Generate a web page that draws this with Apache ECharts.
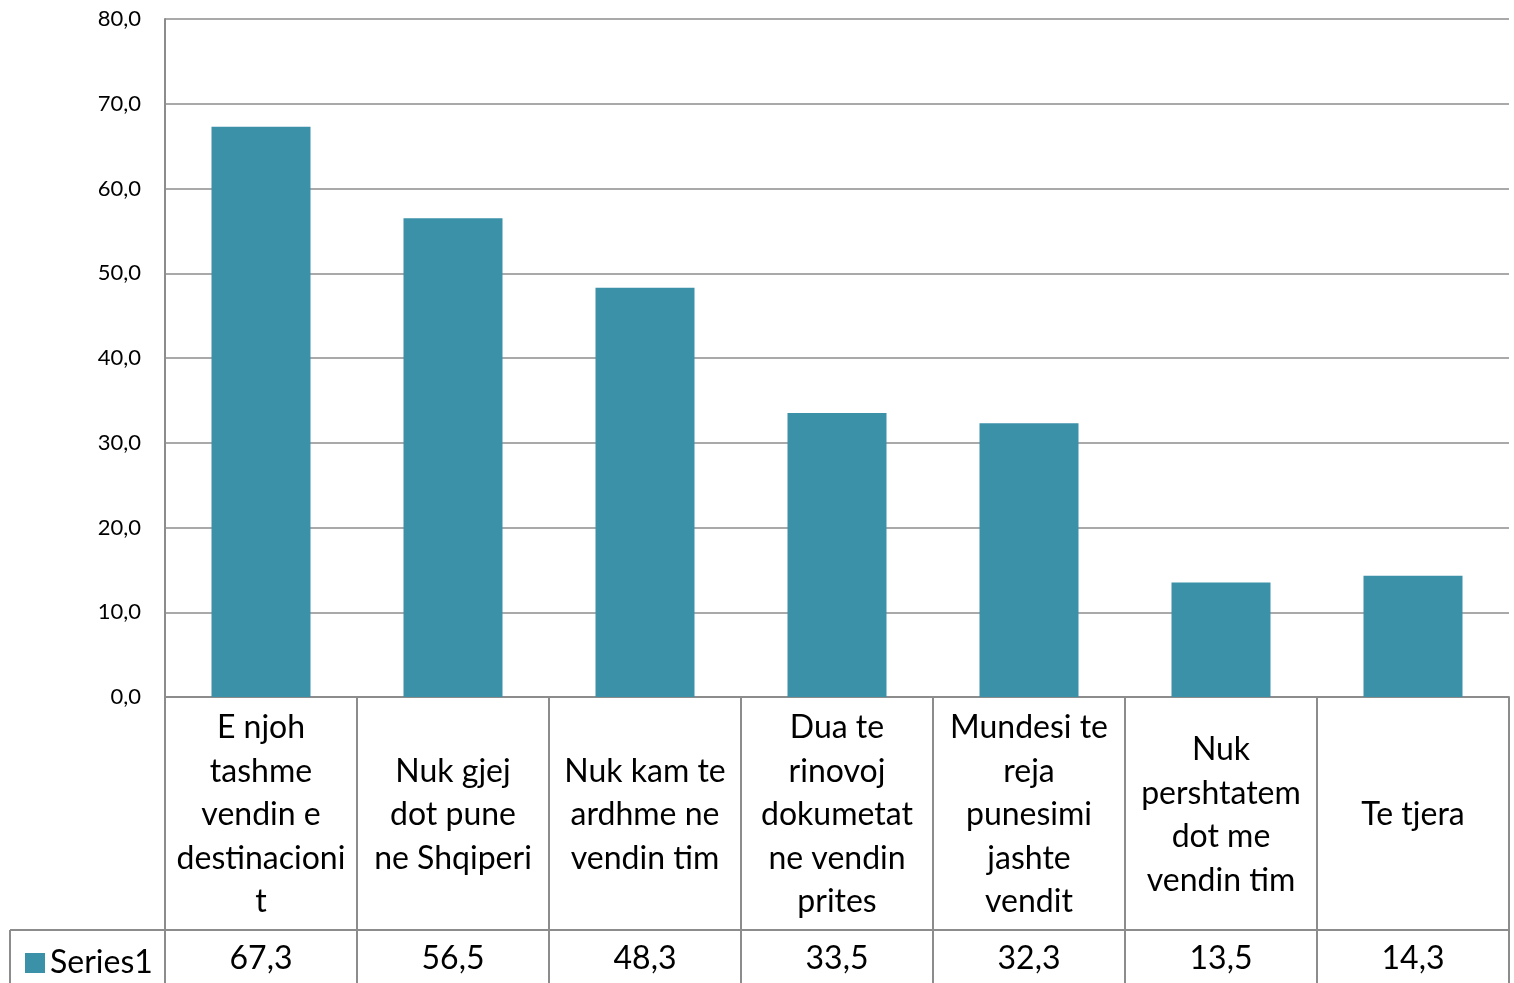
<!DOCTYPE html>
<html>
<head>
<meta charset="utf-8">
<script src="https://cdn.jsdelivr.net/npm/echarts@6/dist/echarts.min.js"></script>
<style>
  html, body { margin: 0; padding: 0; background: #fff; }
  #main { width: 1514px; height: 983px; }
</style>
</head>
<body>
<div id="main"></div>
<script>
(function () {

  var categories = [
    'E njoh\ntashme\nvendin e\ndestinacioni\nt',
    'Nuk gjej\ndot pune\nne Shqiperi',
    'Nuk kam te\nardhme ne\nvendin tim',
    'Dua te\nrinovoj\ndokumetat\nne vendin\nprites',
    'Mundesi te\nreja\npunesimi\njashte\nvendit',
    'Nuk\npershtatem\ndot me\nvendin tim',
    'Te tjera'
  ];
  var values = [67.3, 56.5, 48.3, 33.5, 32.3, 13.5, 14.3];
  var seriesName = 'Series1';

  var lineColor = '#8c8c8c';
  var font = 'Lato, "Open Sans", sans-serif';

  function comma(v) {
    return v.toFixed(1).replace('.', ',');
  }

  var myChart = echarts.init(document.getElementById('main'));

  var option = {
    animation: false,
    textStyle: { fontFamily: font },
    grid: { left: 165, right: 5, top: 19, bottom: 286 },
    legend: {
      data: [seriesName],
      left: 20,
      top: 942,
      itemWidth: 20,
      itemHeight: 20,
      itemGap: 6,
      icon: 'rect',
      textStyle: { fontSize: 32, color: '#000', fontFamily: font }
    },
    xAxis: [{
      type: 'category',
      data: categories,
      position: 'bottom',
      axisLine: { lineStyle: { color: lineColor, width: 2 } },
      axisTick: { show: true, length: 286, lineStyle: { color: lineColor, width: 2 } },
      axisLabel: {
        interval: 0,
        margin: 118,
        verticalAlign: 'middle',
        fontSize: 32,
        lineHeight: 43.5,
        color: '#000',
        fontFamily: font
      }
    }, {
      type: 'category',
      data: values.map(comma),
      position: 'bottom',
      offset: 233,
      axisLine: { lineStyle: { color: lineColor, width: 2 } },
      axisTick: { show: false },
      axisLabel: {
        interval: 0,
        margin: 29,
        verticalAlign: 'middle',
        fontSize: 32,
        color: '#000',
        fontFamily: font
      }
    }],
    yAxis: {
      type: 'value',
      min: 0,
      max: 80,
      interval: 10,
      axisLine: { show: true, lineStyle: { color: lineColor, width: 2 } },
      axisTick: { show: false },
      splitLine: { lineStyle: { color: lineColor, width: 1.5 } },
      axisLabel: {
        margin: 24,
        fontSize: 22,
        color: '#000',
        fontFamily: font,
        formatter: function (v) { return comma(v); }
      }
    },
    graphic: [
      { type: 'line', shape: { x1: 10, y1: 930, x2: 165, y2: 930 }, style: { stroke: lineColor, lineWidth: 2 } },
      { type: 'line', shape: { x1: 10, y1: 930, x2: 10, y2: 983 }, style: { stroke: lineColor, lineWidth: 2 } }
    ],
    series: [{
      name: seriesName,
      type: 'bar',
      data: values,
      barWidth: 99,
      itemStyle: { color: '#3a91a8' }
    }]
  };

  myChart.setOption(option);

})();
</script>
</body>
</html>
